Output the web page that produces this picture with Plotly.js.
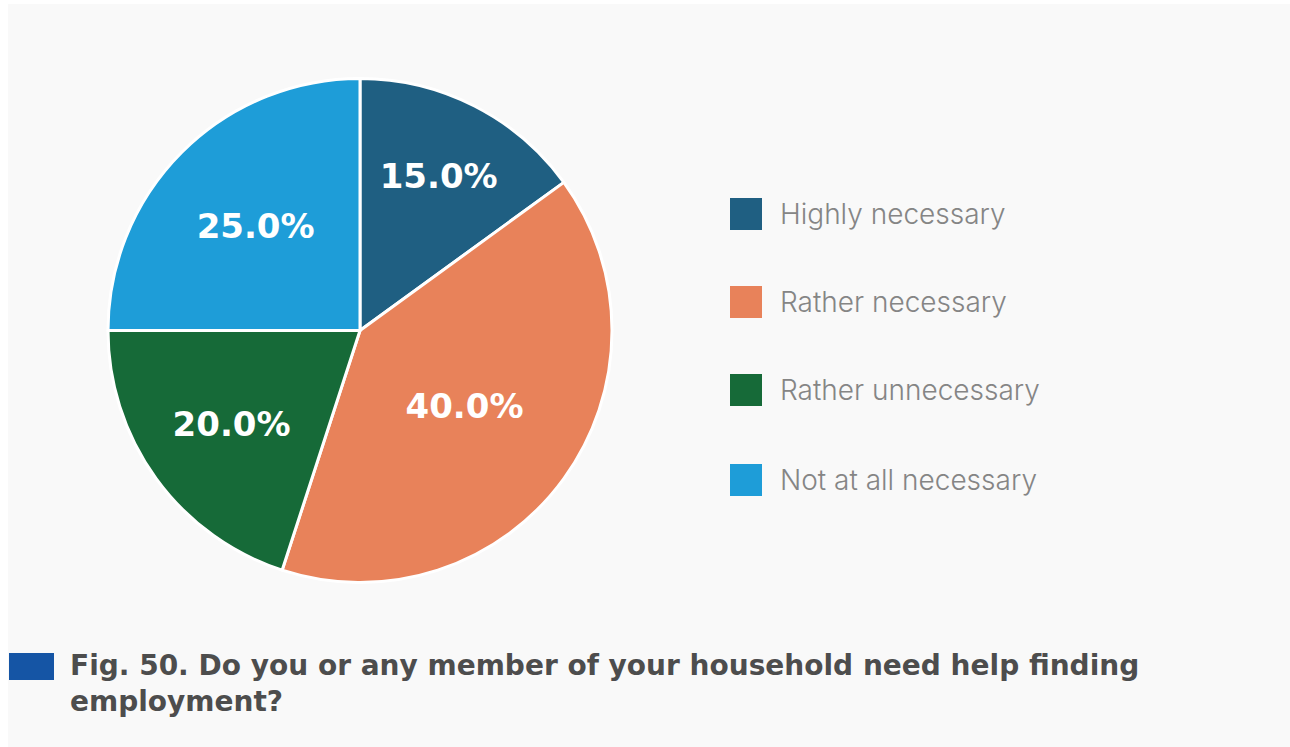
<!DOCTYPE html>
<html>
<head>
<meta charset="utf-8">
<script src="https://cdn.plot.ly/plotly-3.0.1.min.js"></script>
<style>
html,body{margin:0;padding:0;background:#ffffff;}
#chart{width:1290px;height:747px;}
</style>
</head>
<body>
<div id="chart"></div>
<script>
const categories = ["Highly necessary", "Rather necessary", "Rather unnecessary", "Not at all necessary"];
const shares = [15.0, 40.0, 20.0, 25.0];
const sliceColors = ["#1f5f82", "#e8825a", "#166a38", "#1e9dd8"];
const titleText = "Fig. 50. Do you or any member of your household need help finding<br>employment?";

const W = 1290, H = 747;
const px = v => v / W;
const py = v => 1 - v / H;

const trace = {
  type: "pie",
  labels: categories,
  values: shares,
  sort: false,
  direction: "clockwise",
  rotation: 0,
  marker: {colors: sliceColors, line: {color: "#ffffff", width: 3}},
  texttemplate: "%{percent:.1%}",
  textposition: "inside",
  insidetextorientation: "horizontal",
  textfont: {family: "DejaVu Sans, sans-serif", size: 34, color: "#ffffff", weight: 700},
  hoverinfo: "label+percent",
  showlegend: false,
  domain: {x: [px(108), px(612)], y: [py(583), py(78)]}
};

const shapes = [
  {type: "rect", xref: "paper", yref: "paper", x0: 0, x1: px(8), y0: 0, y1: 1, fillcolor: "#ffffff", line: {width: 0}, layer: "below"},
  {type: "rect", xref: "paper", yref: "paper", x0: 0, x1: 1, y0: py(4), y1: 1, fillcolor: "#ffffff", line: {width: 0}, layer: "below"},
  {type: "rect", xref: "paper", yref: "paper", x0: px(9), x1: px(54), y0: py(680), y1: py(653), fillcolor: "#1555a5", line: {width: 0}}
];
const annotations = [
  {xref: "paper", yref: "paper", x: px(68), y: py(683), xanchor: "left", yanchor: "middle", align: "left",
   text: "<b>" + titleText + "</b>", showarrow: false,
   font: {family: "DejaVu Sans, sans-serif", size: 28, color: "#4d4d4d"}}
];
const legendRows = [214, 302, 390, 480];
categories.forEach((c, i) => {
  const yc = legendRows[i];
  shapes.push({type: "rect", xref: "paper", yref: "paper", x0: px(730), x1: px(762), y0: py(yc + 16), y1: py(yc - 16),
    fillcolor: sliceColors[i], line: {width: 0}});
  annotations.push({xref: "paper", yref: "paper", x: px(778), y: py(yc), xanchor: "left", yanchor: "middle",
    text: c, showarrow: false, font: {family: "Inter, sans-serif", size: 28, color: "#858585", weight: 300}});
});

const layout = {
  width: W, height: H,
  margin: {l: 0, r: 0, t: 0, b: 0},
  paper_bgcolor: "#f9f9f9",
  plot_bgcolor: "#f9f9f9",
  showlegend: false,
  shapes: shapes,
  annotations: annotations
};

Plotly.newPlot("chart", [trace], layout, {displayModeBar: false, staticPlot: true});
</script>
</body>
</html>
